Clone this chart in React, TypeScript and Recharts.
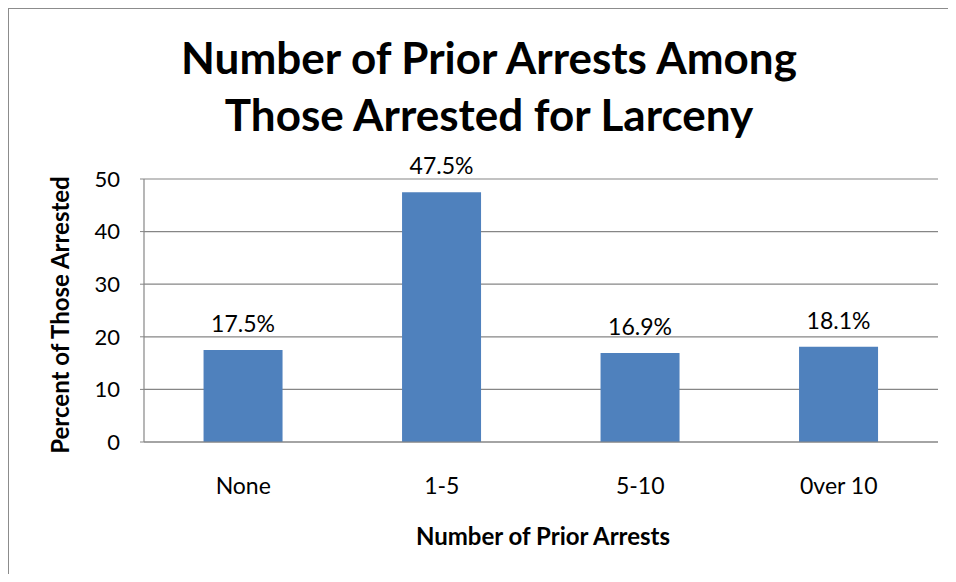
import { Bar, BarChart, CartesianGrid, LabelList, XAxis, YAxis } from 'recharts'

const categories = ['None', '1-5', '5-10', '0ver 10']
const percents = [17.5, 47.5, 16.9, 18.1]
const yTicks = [0, 10, 20, 30, 40, 50]

const chartData = categories.map((name, i) => ({ name, percent: percents[i] }))

const FONT = 'Lato, "Open Sans", sans-serif'
const GRID = '#868686'

const App = () => {
  return (
    <div
      style={{
        position: 'relative',
        width: 947,
        height: 565,
        borderLeft: '1px solid #8c8c8c',
        borderTop: '1px solid #8c8c8c',
        background: '#fff',
        fontFamily: FONT,
        color: '#000',
      }}
    >
      <div
        style={{
          position: 'absolute',
          left: 0,
          top: 20,
          width: 960,
          textAlign: 'center',
          fontSize: 44,
          fontWeight: 700,
          lineHeight: '57px',
        }}
      >
        Number of Prior Arrests Among
        <br />
        Those Arrested for Larceny
      </div>
      <BarChart
        width={947}
        height={565}
        data={chartData}
        margin={{ top: 170, right: 18, bottom: 102, left: 75 }}
        barCategoryGap="30%"
      >
        <CartesianGrid vertical={false} stroke={GRID} strokeWidth={1.2} />
        <YAxis
          width={60}
          domain={[0, 50]}
          ticks={yTicks}
          interval={0}
          axisLine={{ stroke: GRID, strokeWidth: 1.2 }}
          tickLine={{ stroke: GRID }}
          tickSize={4}
          tickMargin={20}
          tick={{ fill: '#000', fontSize: 22, fontFamily: FONT }}
        />
        <XAxis
          dataKey="name"
          height={30}
          axisLine={{ stroke: GRID, strokeWidth: 1.2 }}
          tickLine={false}
          tickSize={0}
          tickMargin={36}
          tick={{ fill: '#000', fontSize: 23, fontFamily: FONT }}
        />
        <Bar dataKey="percent" fill="#4f81bd" isAnimationActive={false}>
          <LabelList
            dataKey="percent"
            position="top"
            offset={18}
            formatter={(v: number) => `${v.toFixed(1)}%`}
            style={{ fill: '#000', fontSize: 23, fontFamily: FONT }}
          />
        </Bar>
      </BarChart>
      <div
        style={{
          position: 'absolute',
          left: 534 - 200,
          top: 513,
          width: 400,
          textAlign: 'center',
          fontSize: 24,
          fontWeight: 700,
          lineHeight: '28px',
        }}
      >
        Number of Prior Arrests
      </div>
      <div
        style={{
          position: 'absolute',
          left: 51 - 200,
          top: 306 - 14,
          width: 400,
          textAlign: 'center',
          fontSize: 24,
          fontWeight: 700,
          lineHeight: '28px',
          transform: 'rotate(-90deg)',
        }}
      >
        Percent of Those Arrested
      </div>
    </div>
  )
}

export default App
